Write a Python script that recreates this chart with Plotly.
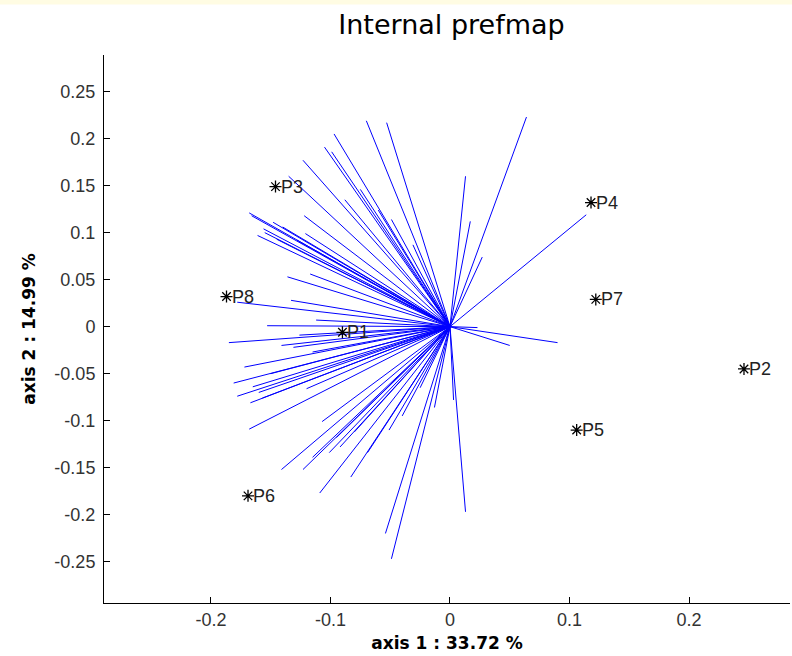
import plotly.graph_objects as go

# Product points
prod_names = ["P1", "P2", "P3", "P4", "P5", "P6", "P7", "P8"]
prod_x = [-0.090, 0.246, -0.146, 0.118, 0.106, -0.169, 0.122, -0.187]
prod_y = [-0.006, -0.045, 0.149, 0.132, -0.110, -0.180, 0.029, 0.032]

# Consumer vectors (end points; all start at the origin)
cons_x = [0.064, 0.013, 0.017, 0.027, 0.114, 0.090, 0.050, 0.023,
          0.013, 0.003, -0.013, -0.049, -0.054,
          -0.053, -0.070, -0.097, -0.105, -0.099, -0.123, -0.135, -0.088,
          -0.049, -0.031, -0.122, -0.168, -0.166, -0.148, -0.161, -0.156,
          -0.121, -0.136, -0.117, -0.178, -0.133, -0.112, -0.153,
          -0.185, -0.141, -0.172, -0.181, -0.178, -0.167, -0.168, -0.107,
          -0.141, -0.123, -0.115, -0.101, -0.109, -0.083, -0.051,
          -0.145, -0.155, -0.131, -0.115, -0.126, -0.165, -0.157,
          -0.092, -0.069, -0.025, -0.075, -0.060,
          -0.140, -0.128, -0.150, -0.160, -0.120, -0.095, -0.080, -0.040]
cons_y = [0.223, 0.160, 0.112, 0.074, 0.119, -0.017, -0.020, -0.001,
          -0.197, -0.078, -0.086, -0.247, -0.220,
          0.217, 0.219, 0.205, 0.191, 0.186, 0.177, 0.160, 0.135,
          0.114, 0.087, 0.118, 0.121, 0.118, 0.111, 0.097, 0.104,
          0.099, 0.053, 0.056, 0.026, 0.028, 0.007, 0.001,
          -0.017, -0.020, -0.043, -0.060, -0.074, -0.081, -0.109, -0.101,
          -0.152, -0.152, -0.139, -0.134, -0.177, -0.160, -0.110,
          0.093, 0.100, -0.022, -0.027, -0.009, -0.064, -0.076,
          -0.128, -0.134, -0.065, 0.146, 0.124,
          0.106, 0.092, -0.050, -0.070, -0.066, -0.118, -0.112, -0.095]

x_ticks = [-0.2, -0.1, 0, 0.1, 0.2]
x_tick_labels = ["-0.2", "-0.1", "0", "0.1", "0.2"]
y_ticks = [-0.25, -0.2, -0.15, -0.1, -0.05, 0, 0.05, 0.1, 0.15, 0.2, 0.25]
y_tick_labels = ["-0.25", "-0.2", "-0.15", "-0.1", "-0.05", "0",
                 "0.05", "0.1", "0.15", "0.2", "0.25"]

lx, ly = [], []
for ex, ey in zip(cons_x, cons_y):
    lx += [0, ex, None]
    ly += [0, ey, None]

fig = go.Figure()
fig.add_trace(go.Scatter(x=lx, y=ly, mode="lines",
                         line=dict(color="#0000FF", width=1),
                         hoverinfo="skip", showlegend=False))
fig.add_trace(go.Scatter(x=prod_x, y=prod_y, mode="markers",
                         marker=dict(symbol="asterisk-open", size=10, color="black",
                                     line=dict(color="black", width=1.3)),
                         cliponaxis=False, showlegend=False))
for name, px, py in zip(prod_names, prod_x, prod_y):
    fig.add_annotation(x=px, y=py, text=name, showarrow=False,
                       xanchor="left", yanchor="middle", xshift=3,
                       font=dict(family="Liberation Sans, Arial", size=18, color="#222222"))

fig.update_layout(
    width=792, height=656,
    margin=dict(l=104, r=2, t=55, b=53),
    paper_bgcolor="white", plot_bgcolor="white",
    title=dict(text="Internal prefmap", x=0.57, xanchor="center", y=0.962, yanchor="middle",
               font=dict(family="DejaVu Sans", size=27, color="black")),
    xaxis=dict(range=[-0.2895, 0.2845], tickvals=x_ticks, ticktext=x_tick_labels,
               ticks="inside", ticklen=6, tickcolor="black", showgrid=False,
               zeroline=False, showline=True, linecolor="black", linewidth=1,
               tickfont=dict(family="Liberation Sans, Arial", size=18, color="#333333"),
               title=dict(text="<b>axis 1 : 33.72 %</b>", standoff=8,
                          font=dict(family="DejaVu Sans", size=17, color="black"))),
    yaxis=dict(range=[-0.294, 0.289], tickvals=y_ticks, ticktext=y_tick_labels,
               ticks="inside", ticklen=6, tickcolor="black", showgrid=False,
               zeroline=False, showline=True, linecolor="black", linewidth=1,
               ticklabelstandoff=4,
               tickfont=dict(family="Liberation Sans, Arial", size=18, color="#333333"),
               title=dict(text="<b>axis 2 : 14.99 %</b>", standoff=14,
                          font=dict(family="DejaVu Sans", size=17, color="black"))),
    shapes=[dict(type="rect", xref="paper", yref="paper", x0=-0.2, x1=1.01,
                 y0=1.092, y1=1.11, fillcolor="#FFFCE3", line=dict(width=0), layer="below")],
)

fig.write_html("out.html")
